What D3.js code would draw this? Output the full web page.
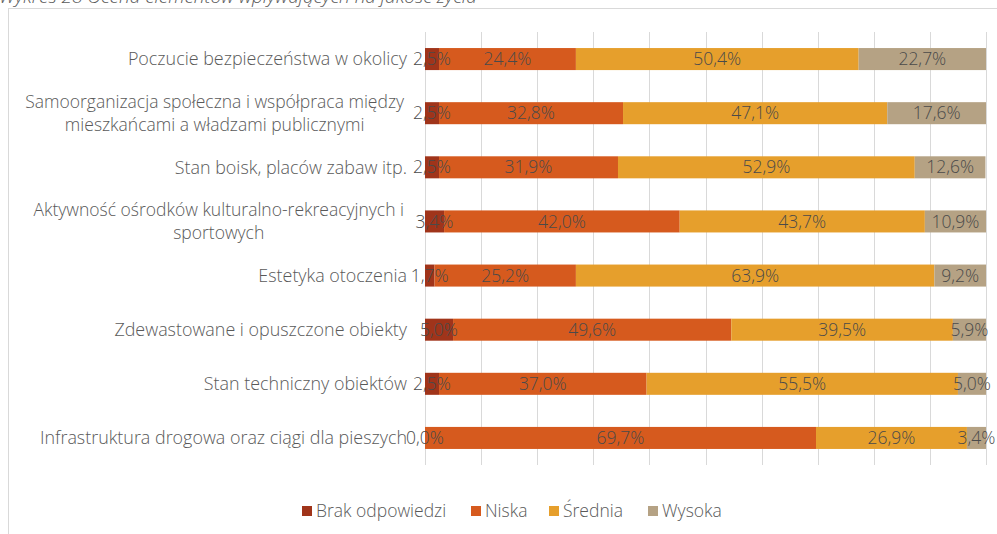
<!DOCTYPE html>
<html><head><meta charset="utf-8">
<script src="https://cdn.jsdelivr.net/npm/d3@7"></script>
<style>
html,body{margin:0;padding:0;background:#fff;overflow:hidden;}
svg{display:block;font-family:"Open Sans",sans-serif;}
</style></head>
<body><svg id="c" width="997" height="534"></svg>
<script>
const title = "Wykres 28 Ocena elementów wpływających na jakość życia";
const categories = [
  "Poczucie bezpieczeństwa w okolicy",
  "Samoorganizacja społeczna i współpraca między\nmieszkańcami a władzami publicznymi",
  "Stan boisk, placów zabaw itp.",
  "Aktywność ośrodków kulturalno-rekreacyjnych i\nsportowych",
  "Estetyka otoczenia",
  "Zdewastowane i opuszczone obiekty",
  "Stan techniczny obiektów",
  "Infrastruktura drogowa oraz ciągi dla pieszych"
];
const seriesNames = ["Brak odpowiedzi", "Niska", "Średnia", "Wysoka"];
const brak    = [2.5, 2.5, 2.5, 3.4, 1.7, 5.0, 2.5, 0.0];
const niska   = [24.4, 32.8, 31.9, 42.0, 25.2, 49.6, 37.0, 69.7];
const srednia = [50.4, 47.1, 52.9, 43.7, 63.9, 39.5, 55.5, 26.9];
const wysoka  = [22.7, 17.6, 12.6, 10.9, 9.2, 5.9, 5.0, 3.4];
const gridTicks = [0,10,20,30,40,50,60,70,80,90,100];
const colors = ["#a0341a", "#d65a1e", "#e69f2c", "#b5a284"];

const rows = categories.map((c,i)=>({cat:c, "Brak odpowiedzi":brak[i], "Niska":niska[i], "Średnia":srednia[i], "Wysoka":wysoka[i]}));
const svg = d3.select("#c");
const textCol = "#595959";
const fs = 17.5;

// frame
svg.append("rect").attr("x",8.5).attr("y",8.5).attr("width",1000).attr("height",600)
  .attr("fill","none").attr("stroke","#d9d9d9").attr("stroke-width",1);

// title (cropped at top as in the source)
svg.append("text").attr("x",-1).attr("y",3).attr("font-style","italic").attr("font-size",19).attr("font-weight",300)
  .attr("fill",textCol).text(title);

const x = d3.scaleLinear().domain([0,100]).range([425,986]);
const y = d3.scaleBand().domain(categories).range([32,465]).paddingInner(0.593).paddingOuter(0.2965);

// gridlines
svg.append("g").selectAll("line").data(gridTicks).join("line")
  .attr("x1",d=>Math.round(x(d))+0.5).attr("x2",d=>Math.round(x(d))+0.5)
  .attr("y1",32).attr("y2",465).attr("stroke","#d9d9d9").attr("stroke-width",1);

const stack = d3.stack().keys(seriesNames)(rows);
const color = d3.scaleOrdinal().domain(seriesNames).range(colors);

const g = svg.append("g");
stack.forEach(s=>{
  g.append("g").selectAll("rect").data(s).join("rect")
    .attr("x",d=>x(d[0])).attr("width",d=>x(d[1])-x(d[0]))
    .attr("y",d=>y(d.data.cat)).attr("height",y.bandwidth())
    .attr("fill",color(s.key));
});
const fmt = v => v.toFixed(1).replace(".",",") + "%";
stack.forEach(s=>{
  g.append("g").selectAll("text").data(s).join("text")
    .attr("x",d=>(x(d[0])+x(d[1]))/2).attr("y",d=>y(d.data.cat)+y.bandwidth()/2)
    .attr("dy","0.35em").attr("text-anchor","middle").attr("font-size",fs).attr("font-weight",300)
    .attr("fill","#4a4a4a").text(d=>fmt(d.data[s.key]));
});

// category labels
const lab = svg.append("g");
categories.forEach(c=>{
  const lines = c.split("\n");
  const cy = y(c)+y.bandwidth()/2;
  const lh = 23;
  if(lines.length===1){
    lab.append("text").attr("font-size",17.9).attr("font-weight",300).attr("fill",textCol)
      .attr("x",407).attr("y",cy).attr("dy","0.35em").attr("text-anchor","end").text(c);
  } else {
    const t = lab.append("text").attr("font-size",fs).attr("font-weight",300).attr("fill",textCol);
    const tmp = lab.append("text").attr("font-size",fs).attr("font-weight",300);
    let maxW = 0;
    lines.forEach(l=>{tmp.text(l); maxW = Math.max(maxW, tmp.node().getComputedTextLength());});
    tmp.remove();
    const cx = 404 - maxW/2;
    lines.forEach((l,i)=>{
      t.append("tspan").attr("x",cx).attr("text-anchor","middle")
        .attr("y",cy + (i-(lines.length-1)/2)*lh).attr("dy","0.35em").text(l);
    });
  }
});

// legend
const legX = [302, 471, 549, 648];
const lg = svg.append("g");
seriesNames.forEach((n,i)=>{
  lg.append("rect").attr("x",legX[i]).attr("y",506).attr("width",10).attr("height",10).attr("fill",colors[i]);
  lg.append("text").attr("x",legX[i]+14).attr("y",511).attr("dy","0.35em").attr("font-size",fs)
    .attr("font-weight",300).attr("fill",textCol).text(n);
});
</script></body></html>
